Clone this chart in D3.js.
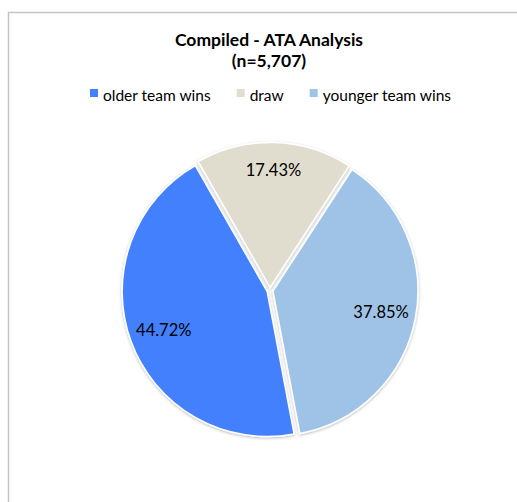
<!DOCTYPE html>
<html>
<head>
<meta charset="utf-8">
<script src="https://cdn.jsdelivr.net/npm/d3@7"></script>
<style>
  html, body { margin: 0; padding: 0; background: #fff; }
  svg { display: block; }
  text { font-family: Lato, "Open Sans", sans-serif; fill: #000; }
</style>
</head>
<body>
<svg id="chart" width="517" height="502"></svg>
<script>
// Outcome shares of matches, by relative team age
const categories = ["older team wins", "draw", "younger team wins"];
const shares = [44.72, 17.43, 37.85];
const sliceColors = ["#4280FD", "#E1DDCE", "#9EC3E6"];
const titleLines = ["Compiled - ATA Analysis", "(n=5,707)"];

const W = 517, H = 502;
const svg = d3.select("#chart");

// chart frame
svg.append("rect")
  .attr("x", 8.5).attr("y", 12.5)
  .attr("width", 600).attr("height", 600)
  .attr("fill", "#fff")
  .attr("stroke", "#c4c4c4").attr("stroke-width", 1.5);

// soft shadow under the slices
const defs = svg.append("defs");
const f = defs.append("filter").attr("id", "shadow")
  .attr("x", "-10%").attr("y", "-10%").attr("width", "120%").attr("height", "120%");
f.append("feDropShadow")
  .attr("dx", 0).attr("dy", 1).attr("stdDeviation", 1.6)
  .attr("flood-color", "#000").attr("flood-opacity", 0.28);

// title
const title = svg.append("text")
  .attr("text-anchor", "middle")
  .attr("font-weight", "bold")
  .attr("font-size", 17.5);
title.selectAll("tspan").data(titleLines).join("tspan")
  .attr("x", 269)
  .attr("y", (d, i) => 46 + i * 21)
  .text(d => d);

// legend
const legend = svg.append("g");
const legendItems = legend.selectAll("g").data(categories).join("g");
legendItems.append("rect")
  .attr("width", 8).attr("height", 8)
  .attr("y", 89)
  .attr("fill", (d, i) => sliceColors[i]);
legendItems.append("text")
  .attr("y", 100.5)
  .attr("font-size", 15.5)
  .text(d => d);
let lx = 0;
const boxGap = 5, itemGap = 26;
legendItems.each(function () {
  const g = d3.select(this);
  const tw = g.select("text").node().getComputedTextLength();
  g.select("rect").attr("x", lx);
  g.select("text").attr("x", lx + 8 + boxGap);
  lx += 8 + boxGap + tw + itemGap;
});
const legendWidth = lx - itemGap;
legend.attr("transform", `translate(${270.5 - legendWidth / 2},0)`);

// pie
const cx = 270, cy = 290.5, r = 145, explode = 3;
const startDeg = 169.3;
const pie = d3.pie().sort(null).value(d => d)
  .startAngle(startDeg * Math.PI / 180)
  .endAngle((startDeg + 360) * Math.PI / 180);
const arcs = pie(shares);
const arc = d3.arc().innerRadius(0).outerRadius(r);
// narrow slices push their label further out toward the rim
const labelRadius = d => (d.endAngle - d.startAngle < 1.5 ? 0.81 : 0.76) * r;

const pieG = svg.append("g").attr("transform", `translate(${cx},${cy})`);
const slices = pieG.selectAll("g.slice").data(arcs).join("g")
  .attr("class", "slice")
  .attr("transform", d => {
    const a = (d.startAngle + d.endAngle) / 2;
    return `translate(${Math.sin(a) * explode},${-Math.cos(a) * explode})`;
  });
slices.append("path")
  .attr("d", arc)
  .attr("fill", (d, i) => sliceColors[i])
  .attr("stroke", "#fff")
  .attr("stroke-width", 1.5)
  .attr("stroke-linejoin", "round")
  .attr("filter", "url(#shadow)");
slices.append("text")
  .attr("transform", d => {
    const lr = labelRadius(d);
    const c = d3.arc().innerRadius(lr).outerRadius(lr).centroid(d);
    return `translate(${c})`;
  })
  .attr("text-anchor", "middle")
  .attr("dy", "0.36em")
  .attr("font-size", 16.5)
  .text(d => d.data.toFixed(2) + "%");
</script>
</body>
</html>
